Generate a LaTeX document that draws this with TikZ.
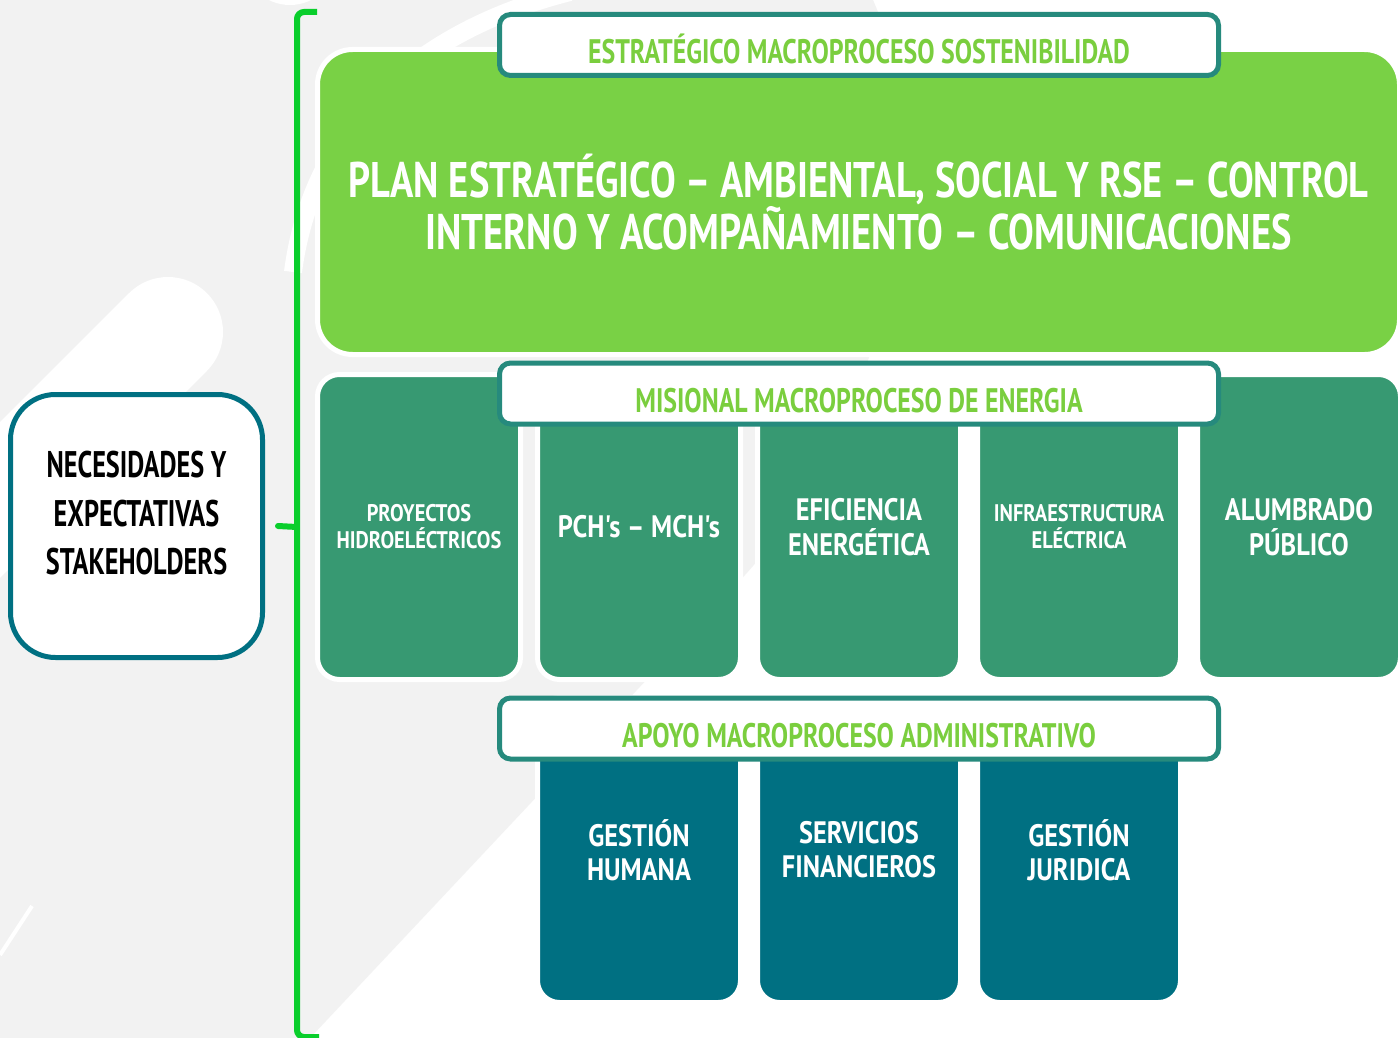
\documentclass[tikz,border=0pt]{standalone}
\usepackage{fontspec}
\setmainfont{PT Sans}
\newfontfamily\planfont[FakeStretch=0.77]{PT Sans}
\newfontfamily\narrowfont[FakeStretch=0.85]{PT Sans}
\newfontfamily\titlefont[FakeStretch=0.76]{PT Sans}
\newfontfamily\needfont[FakeStretch=0.71]{PT Sans}
\usepackage{tikz}
\usetikzlibrary{positioning}
\definecolor{bggrey}{RGB}{242,242,242}
\definecolor{plangreen}{RGB}{121,209,69}
\definecolor{titlegreen}{RGB}{122,206,62}
\definecolor{energygreen}{RGB}{55,153,114}
\definecolor{adminteal}{RGB}{0,112,130}
\definecolor{headteal}{RGB}{38,138,125}
\definecolor{bracketgreen}{RGB}{10,206,44}

\begin{document}
\begin{tikzpicture}[x=1pt,y=-1pt,node distance=220pt]
\tikzstyle{planbox}=[rectangle,rounded corners=35pt,fill=plangreen,draw=white,line width=5pt,
  minimum width=1082pt,minimum height=305pt,text=white,align=center,
  font=\planfont\bfseries\fontsize{50}{52}\selectfont]
\tikzstyle{headbox}=[rectangle,rounded corners=11pt,fill=white,draw=headteal,line width=5pt,
  minimum width=719pt,minimum height=61pt,text=titlegreen,text height=38pt,text depth=0pt,
  font=\titlefont\bfseries\fontsize{34}{36}\selectfont]
\tikzstyle{energybox}=[rectangle,rounded corners=22pt,fill=energygreen,draw=white,line width=5pt,
  minimum width=203pt,minimum height=305pt,text=white,align=center,
  font=\narrowfont\bfseries\fontsize{31}{35}\selectfont]
\tikzstyle{smalltext}=[font=\narrowfont\bfseries\fontsize{24}{27}\selectfont]
\tikzstyle{adminbox}=[energybox,fill=adminteal,font=\narrowfont\bfseries\fontsize{31}{34}\selectfont]
\tikzstyle{needbox}=[rectangle,rounded corners=45pt,fill=white,draw=adminteal,line width=5pt,
  minimum width=252pt,minimum height=263pt]
\tikzstyle{needtext}=[align=center,text=black,font=\needfont\bfseries\fontsize{37}{48.5}\selectfont]
\tikzstyle{bracket}=[draw=bracketgreen,line width=6pt,rounded corners=7pt]

\fill[white] (0,0) rectangle (1400,1038);
\useasboundingbox (0,0) rectangle (1400,1038);
\fill[bggrey] (0,0) -- (873,0) .. controls (960,200) and (850,460) .. (745,575) -- (310,1038) -- (0,1038) -- cycle;
\fill[white] (290,-42) circle (47pt);
\draw[white,line width=18pt] (293,272) .. controls (310,140) and (400,35) .. (570,-8);
\draw[white,line width=110pt,line cap=round] (168,332) -- (-70,570);
\draw[white,line width=4pt] (0,955) -- (32,906);

\coordinate (btop) at (317,12);
\coordinate (bbot) at (319,1037);
\coordinate (bmid) at (297,527);
\draw[bracket] (btop) -- (297,12) -- (297,1037) -- (bbot);

\node[planbox] (plan) at (858.5,202) {PLAN ESTRATÉGICO – AMBIENTAL, SOCIAL Y RSE – CONTROL\\INTERNO Y ACOMPAÑAMIENTO – COMUNICACIONES};
\node[headbox] (strat) at (859,45) {ESTRATÉGICO MACROPROCESO SOSTENIBILIDAD};

\node[energybox,smalltext] (hydro) at (419,527) {PROYECTOS\\HIDROELÉCTRICOS};
\node[energybox,right of=hydro] (pch) {PCH's – MCH's};
\node[energybox,right of=pch] (effic) {EFICIENCIA\\ENERGÉTICA};
\node[energybox,smalltext,right of=effic] (infra) {INFRAESTRUCTURA\\ELÉCTRICA};
\node[energybox,right of=infra] (light) {ALUMBRADO\\PÚBLICO};
\node[headbox] (mision) at (859,393.5) {MISIONAL MACROPROCESO DE ENERGIA};

\node[adminbox] (human) at (639,850) {GESTIÓN\\HUMANA};
\node[adminbox,right of=human] (finance) {SERVICIOS\\FINANCIEROS};
\node[adminbox,right of=finance] (legal) {GESTIÓN\\JURIDICA};
\node[headbox] (apoyo) at (859,728.5) {APOYO MACROPROCESO ADMINISTRATIVO};

\node[needbox] (need) at (136.5,526) {};
\node[needtext] (needlbl) at ([yshift=12.5pt]need.center) {NECESIDADES Y\\EXPECTATIVAS\\STAKEHOLDERS};
\draw[bracket,line cap=round] (bmid) -- ([xshift=13pt]need.east);
\end{tikzpicture}
\end{document}
